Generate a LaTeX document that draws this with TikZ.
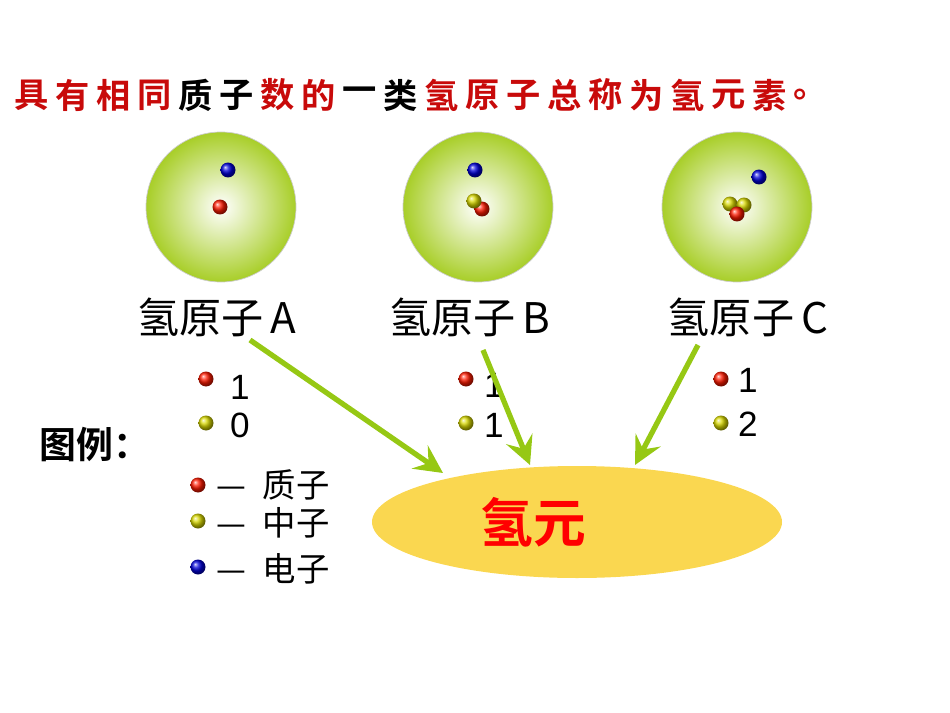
\documentclass[tikz,border=0pt]{standalone}
\usepackage{fontspec}
\setmainfont{Liberation Sans}
\newfontfamily\cjk{Noto Sans CJK SC}
\newfontfamily\cjkt{Noto Sans CJK SC Bold}
\usetikzlibrary{arrows.meta,shapes.geometric}
\definecolor{lg}{RGB}{168,206,40}
\definecolor{ar}{RGB}{150,200,20}
\definecolor{tr}{RGB}{200,10,10}
\definecolor{ey}{RGB}{250,215,80}
\tikzset{
 atom/.style={circle,minimum size=150*0.02cm,inner sep=0,draw=gray!40,inner color=white,outer color=lg},
 pr/.style={circle,minimum size=0.3cm,inner sep=0,ball color=red!80!orange},
 ne/.style={circle,minimum size=0.3cm,inner sep=0,ball color=yellow!85!black},
 el/.style={circle,minimum size=0.3cm,inner sep=0,ball color=blue!85!black},
 lab/.style={font=\cjk\fontsize{24}{26}\selectfont},
 leg/.style={font=\cjk\fontsize{19}{21}\selectfont},
 num/.style={font=\fontsize{20}{22}\selectfont,anchor=west},
 tch/.style={font=\cjkt\fontsize{19.5}{21}\selectfont},
 arr/.style={ar,line width=3pt,-{Stealth[length=16pt,width=16pt,inset=6pt]}}
}
\begin{document}
\begin{tikzpicture}[x=0.02cm,y=-0.02cm]
\useasboundingbox (0,0) rectangle (950,713);
\foreach \c [count=\i] in {具,有,相,同}{\node[tch,text=tr] (t\i) at (32+41*\i-41,95) {\c};}
\foreach \c [count=\i from 5] in {质,子}{\node[tch] (t\i) at (32+41*\i-41,95) {\c};}
\foreach \c [count=\i from 7] in {数,的}{\node[tch,text=tr] (t\i) at (32+41*\i-41,95) {\c};}
\foreach \c [count=\i from 9] in {一,类}{\node[tch] (t\i) at (32+41*\i-41,95) {\c};}
\foreach \c [count=\i from 11] in {氢,原,子,总,称,为,氢,元,素,。}{\node[tch,text=tr] (t\i) at (32+41*\i-41,95) {\c};}
\node[atom] (ca) at (221,207) {};
\node[atom] (cb) at (478,207) {};
\node[atom] (cc) at (737,207) {};
\node[el] (ea) at (228,170) {};
\node[pr] (pa) at (220,207) {};
\node[el] (eb) at (475,170) {};
\node[pr] (pb) at (482,209) {};
\node[ne] (nb) at (474,201) {};
\node[el] (ec) at (759,177) {};
\node[ne] (nc1) at (730,204) {};
\node[ne] (nc2) at (744,205) {};
\node[pr] (pc) at (737,214) {};
\node[lab] (la) at (217,317) {氢原子\,A};
\node[lab] (lb) at (470,317) {氢原子\,B};
\node[lab] (lc) at (748,317) {氢原子\,C};
\node[pr] (ra) at (206,379) {}; \node[num] (ra1) at (224,387) {1};
\node[ne] (ya) at (206,423) {}; \node[num] (ya1) at (224,425) {0};
\node[pr] (rb) at (466,379) {}; \node[num] (rb1) at (478,385) {1};
\node[ne] (yb) at (466,423) {}; \node[num] (yb1) at (478,425) {1};
\node[pr] (rc) at (721,379) {}; \node[num] (rc1) at (732,380) {1};
\node[ne] (yc) at (721,423) {}; \node[num] (yc1) at (732,424) {2};
\node[font=\cjkt\fontsize{21}{23}\selectfont] (tuli) at (95,445) {图例：};
\node[pr] (lp) at (198,485) {}; \node[leg,anchor=west] (lpt) at (210,485) {—\enspace 质子};
\node[ne] (ln) at (198,521) {}; \node[leg,anchor=west] (lnt) at (210,523) {—\enspace 中子};
\node[el] (le) at (198,567) {}; \node[leg,anchor=west] (let) at (210,569) {—\enspace 电子};
\node[ellipse,fill=ey,minimum width=410*0.02cm,minimum height=112*0.02cm] (ell) at (577,522) {};
\node[text=red,font=\cjkt\fontsize{30}{32}\selectfont] (elt) at (533,522) {氢元};
\draw[arr] (250,340) -- (443,473);
\draw[arr] (483,350) -- (530,465);
\draw[arr] (698,345) -- (635,465);
\end{tikzpicture}
\end{document}
